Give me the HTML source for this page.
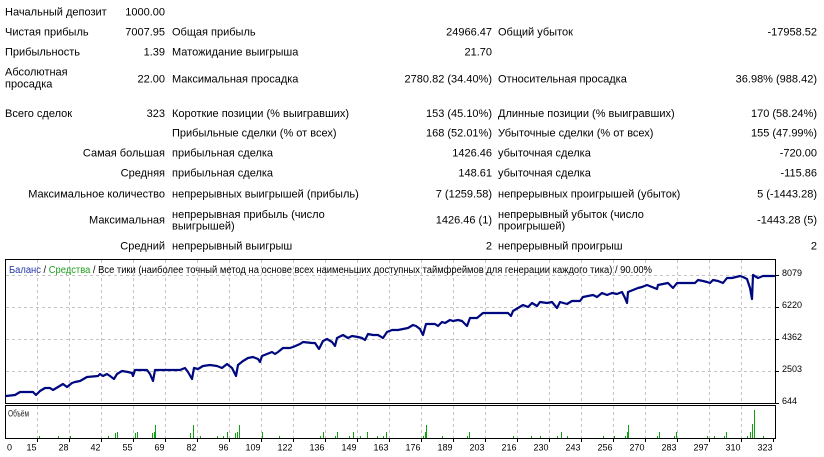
<!DOCTYPE html>
<html>
<head>
<meta charset="utf-8">
<style>
html,body{margin:0;padding:0;background:#fff;}
body{width:824px;height:457px;overflow:hidden;}
svg{display:block;}
.t{font-family:"Liberation Sans","DejaVu Sans",sans-serif;font-size:11px;fill:#000;}
.e{text-anchor:end;}
.ax{font-family:"Liberation Sans","DejaVu Sans",sans-serif;font-size:9px;fill:#000;}
</style>
</head>
<body>
<svg width="824" height="457" viewBox="0 0 824 457" xmlns="http://www.w3.org/2000/svg">
<rect x="0" y="0" width="824" height="457" fill="#fff"/>

<!-- Table -->
<g class="t">
<text x="5" y="15.7">Начальный депозит</text>
<text x="165" y="15.7" class="e">1000.00</text>

<text x="5" y="35.7">Чистая прибыль</text>
<text x="165" y="35.7" class="e">7007.95</text>
<text x="172" y="35.7">Общая прибыль</text>
<text x="492" y="35.7" class="e">24966.47</text>
<text x="498" y="35.7">Общий убыток</text>
<text x="817" y="35.7" class="e">-17958.52</text>

<text x="5" y="55.5">Прибыльность</text>
<text x="165" y="55.5" class="e">1.39</text>
<text x="172" y="55.5">Матожидание выигрыша</text>
<text x="492" y="55.5" class="e">21.70</text>

<text x="5" y="75.7">Абсолютная</text>
<text x="5" y="87.5">просадка</text>
<text x="165" y="82.5" class="e">22.00</text>
<text x="172" y="82.5">Максимальная просадка</text>
<text x="492" y="82.5" class="e">2780.82 (34.40%)</text>
<text x="498" y="82.5">Относительная просадка</text>
<text x="817" y="82.5" class="e">36.98% (988.42)</text>

<text x="5" y="117.2">Всего сделок</text>
<text x="165" y="117.2" class="e">323</text>
<text x="172" y="117.2">Короткие позиции (% выигравших)</text>
<text x="492" y="117.2" class="e">153 (45.10%)</text>
<text x="498" y="117.2">Длинные позиции (% выигравших)</text>
<text x="817" y="117.2" class="e">170 (58.24%)</text>

<text x="172" y="136.7">Прибыльные сделки (% от всех)</text>
<text x="492" y="136.7" class="e">168 (52.01%)</text>
<text x="498" y="136.7">Убыточные сделки (% от всех)</text>
<text x="817" y="136.7" class="e">155 (47.99%)</text>

<text x="165" y="156.7" class="e">Самая большая</text>
<text x="172" y="156.7">прибыльная сделка</text>
<text x="492" y="156.7" class="e">1426.46</text>
<text x="498" y="156.7">убыточная сделка</text>
<text x="817" y="156.7" class="e">-720.00</text>

<text x="165" y="176.7" class="e">Средняя</text>
<text x="172" y="176.7">прибыльная сделка</text>
<text x="492" y="176.7" class="e">148.61</text>
<text x="498" y="176.7">убыточная сделка</text>
<text x="817" y="176.7" class="e">-115.86</text>

<text x="165" y="197.3" class="e">Максимальное количество</text>
<text x="172" y="197.3">непрерывных выигрышей (прибыль)</text>
<text x="492" y="197.3" class="e">7 (1259.58)</text>
<text x="498" y="197.3">непрерывных проигрышей (убыток)</text>
<text x="817" y="197.3" class="e">5 (-1443.28)</text>

<text x="165" y="223.3" class="e">Максимальная</text>
<text x="172" y="218">непрерывная прибыль (число</text>
<text x="172" y="229.7">выигрышей)</text>
<text x="492" y="223.3" class="e">1426.46 (1)</text>
<text x="498" y="218">непрерывный убыток (число</text>
<text x="498" y="229.7">проигрышей)</text>
<text x="817" y="223.3" class="e">-1443.28 (5)</text>

<text x="165" y="249.3" class="e">Средний</text>
<text x="172" y="249.3">непрерывный выигрыш</text>
<text x="492" y="249.3" class="e">2</text>
<text x="498" y="249.3">непрерывный проигрыш</text>
<text x="817" y="249.3" class="e">2</text>
</g>

<!-- Grid -->
<g stroke="#c4c4c4" stroke-width="1" stroke-dasharray="3,3" fill="none">
<path d="M37.5 260V403M69.5 260V403M101.5 260V403M133.5 260V403M165.5 260V403M197.5 260V403M229.5 260V403M261.5 260V403M293.5 260V403M325.5 260V403M357.5 260V403M389.5 260V403M421.5 260V403M453.5 260V403M485.5 260V403M517.5 260V403M549.5 260V403M581.5 260V403M613.5 260V403M645.5 260V403M677.5 260V403M709.5 260V403M741.5 260V403"/>
<path d="M37.5 406V438M69.5 406V438M101.5 406V438M133.5 406V438M165.5 406V438M197.5 406V438M229.5 406V438M261.5 406V438M293.5 406V438M325.5 406V438M357.5 406V438M389.5 406V438M421.5 406V438M453.5 406V438M485.5 406V438M517.5 406V438M549.5 406V438M581.5 406V438M613.5 406V438M645.5 406V438M677.5 406V438M709.5 406V438M741.5 406V438"/>
<path d="M6 275.5H775M6 307.5H775M6 339.5H775M6 371.5H775"/>
</g>

<!-- Boxes -->
<rect x="5.5" y="259.5" width="770" height="144" fill="none" stroke="#000" stroke-width="1"/>
<rect x="5.5" y="405.5" width="770" height="33" fill="none" stroke="#000" stroke-width="1"/>

<!-- Ticks -->
<g stroke="#000" stroke-width="1">
<path d="M776 275.5H779M776 307.5H779M776 339.5H779M776 371.5H779M776 403.5H779"/>
<path d="M37.5 439V442M69.5 439V442M101.5 439V442M133.5 439V442M165.5 439V442M197.5 439V442M229.5 439V442M261.5 439V442M293.5 439V442M325.5 439V442M357.5 439V442M389.5 439V442M421.5 439V442M453.5 439V442M485.5 439V442M517.5 439V442M549.5 439V442M581.5 439V442M613.5 439V442M645.5 439V442M677.5 439V442M709.5 439V442M741.5 439V442M773.5 439V442"/>
</g>

<!-- Header -->
<text x="9" y="273" font-family="Liberation Sans, DejaVu Sans, sans-serif" font-size="10" textLength="643" lengthAdjust="spacingAndGlyphs" fill="#000"><tspan fill="#2436a6">Баланс</tspan> / <tspan fill="#1fa01f">Средства</tspan> / Все тики (наиболее точный метод на основе всех наименьших доступных таймфреймов для генерации каждого тика) / 90.00%</text>

<!-- Balance line -->
<polyline fill="none" stroke="#00087f" stroke-width="2.2" stroke-linejoin="round" stroke-linecap="round" points="6,396 15,395 20,392 33,392 36,395 40,391 45,388 50,388 53,390 58,387 63,384 67,387 72,383 75,382 80,381 87,377 98,376 100,374 103,376 107,374 110,376 114,379 117,374 122,371 128,372 132,373 133,376 135,370 147,370 150,374 153,381 155,370 180,370 185,368 188,372 192,379 194,368 198,369 203,366 210,365 217,366 222,368 227,364 232,368 236,376 238,365 243,361 248,358 253,357 258,359 260,362 262,356 267,354 272,352 275,354 278,352 283,348 290,348 293,347 300,344 303,342 312,343 315,343 319,349 323,341 327,339 332,342 335,346 337,338 343,335 348,338 352,336 358,337 362,338 365,340 368,334 373,335 378,335 383,338 387,332 392,330 398,330 403,329 408,328 413,325 416,326 420,329 423,335 426,324 435,324 438,326 442,322 445,323 450,320 453,321 458,320 462,321 467,326 470,318 477,318 483,313 508,313 511,316 513,311 518,308 523,305 528,307 532,303 537,306 540,302 547,303 552,302 557,308 560,302 567,304 572,301 580,301 583,297 593,295 597,297 602,293 607,295 612,293 617,294 622,292 625,298 627,303 628,292 633,290 638,288 642,287 647,285 652,287 657,289 658,285 663,284 668,283 673,288 677,283 695,283 698,280 703,281 707,282 710,283 713,280 718,281 723,283 727,278 732,278 740,276 743,277 747,279 750,288 752,299 753,275 758,278 763,276 774,276"/>

<!-- Volume -->
<text x="8" y="416.5" font-family="Liberation Sans, DejaVu Sans, sans-serif" font-size="9.5" textLength="21" lengthAdjust="spacingAndGlyphs" fill="#222">Объём</text>
<g fill="#10a010">
<rect x="39" y="436" width="1" height="2"/><rect x="58" y="436" width="1" height="2"/><rect x="70" y="436" width="1" height="2"/>
<rect x="108" y="436" width="1" height="2"/><rect x="115" y="433" width="1" height="5"/><rect x="117" y="432" width="1" height="6"/>
<rect x="135" y="433" width="1" height="5"/><rect x="137" y="432" width="1" height="6"/>
<rect x="152" y="433" width="1" height="5"/><rect x="154" y="432" width="1" height="6"/><rect x="155" y="425" width="1" height="13"/>
<rect x="190" y="433" width="1" height="5"/><rect x="193" y="425" width="1" height="13"/><rect x="200" y="436" width="1" height="2"/>
<rect x="217" y="436" width="1" height="2"/><rect x="223" y="436" width="1" height="2"/><rect x="227" y="432" width="1" height="6"/>
<rect x="235" y="433" width="1" height="5"/><rect x="237" y="432" width="1" height="6"/><rect x="239" y="425" width="1" height="13"/>
<rect x="262" y="432" width="1" height="6"/><rect x="279" y="436" width="1" height="2"/>
<rect x="320" y="436" width="1" height="2"/><rect x="323" y="432" width="1" height="6"/>
<rect x="335" y="436" width="1" height="2"/><rect x="337" y="432" width="1" height="6"/>
<rect x="349" y="436" width="1" height="2"/><rect x="353" y="432" width="1" height="6"/>
<rect x="360" y="436" width="1" height="2"/><rect x="367" y="432" width="1" height="6"/>
<rect x="377" y="436" width="1" height="2"/><rect x="383" y="436" width="1" height="2"/><rect x="386" y="432" width="1" height="6"/>
<rect x="423" y="436" width="1" height="2"/><rect x="425" y="432" width="1" height="6"/><rect x="426" y="425" width="1" height="13"/>
<rect x="442" y="436" width="1" height="2"/><rect x="467" y="436" width="1" height="2"/><rect x="469" y="432" width="1" height="6"/>
<rect x="513" y="436" width="1" height="2"/><rect x="531" y="436" width="1" height="2"/><rect x="540" y="436" width="1" height="2"/>
<rect x="557" y="436" width="1" height="2"/><rect x="561" y="432" width="1" height="6"/><rect x="567" y="436" width="1" height="2"/>
<rect x="603" y="436" width="1" height="2"/><rect x="614" y="436" width="1" height="2"/>
<rect x="625" y="436" width="1" height="2"/><rect x="627" y="432" width="1" height="6"/><rect x="628" y="425" width="1" height="13"/>
<rect x="657" y="436" width="1" height="2"/><rect x="659" y="432" width="1" height="6"/>
<rect x="674" y="436" width="1" height="2"/><rect x="676" y="432" width="1" height="6"/>
<rect x="707" y="436" width="1" height="2"/><rect x="714" y="436" width="1" height="2"/>
<rect x="724" y="436" width="1" height="2"/><rect x="726" y="432" width="1" height="6"/>
<rect x="747" y="436" width="1" height="2"/><rect x="750" y="432" width="1" height="6"/><rect x="752" y="424" width="1" height="14"/><rect x="754" y="410" width="1" height="28"/>
<rect x="763" y="436" width="1" height="2"/>
</g>

<!-- Y labels -->
<g class="ax">
<text x="782" y="276">8079</text>
<text x="782" y="308">6220</text>
<text x="782" y="340">4362</text>
<text x="782" y="372">2503</text>
<text x="782" y="404">644</text>
</g>

<!-- X labels -->
<g class="ax" text-anchor="end">
<text x="7" y="450.5" text-anchor="start">0</text>
<text x="36.5" y="450.5">15</text>
<text x="68.5" y="450.5">28</text>
<text x="100.5" y="450.5">42</text>
<text x="132.5" y="450.5">55</text>
<text x="164.5" y="450.5">69</text>
<text x="196.5" y="450.5">82</text>
<text x="228.5" y="450.5">96</text>
<text x="260.5" y="450.5">109</text>
<text x="292.5" y="450.5">122</text>
<text x="324.5" y="450.5">136</text>
<text x="356.5" y="450.5">149</text>
<text x="388.5" y="450.5">163</text>
<text x="420.5" y="450.5">176</text>
<text x="452.5" y="450.5">189</text>
<text x="484.5" y="450.5">203</text>
<text x="516.5" y="450.5">216</text>
<text x="548.5" y="450.5">230</text>
<text x="580.5" y="450.5">243</text>
<text x="612.5" y="450.5">256</text>
<text x="644.5" y="450.5">270</text>
<text x="676.5" y="450.5">283</text>
<text x="708.5" y="450.5">297</text>
<text x="740.5" y="450.5">310</text>
<text x="772.5" y="450.5">323</text>
</g>
</svg>
</body>
</html>
